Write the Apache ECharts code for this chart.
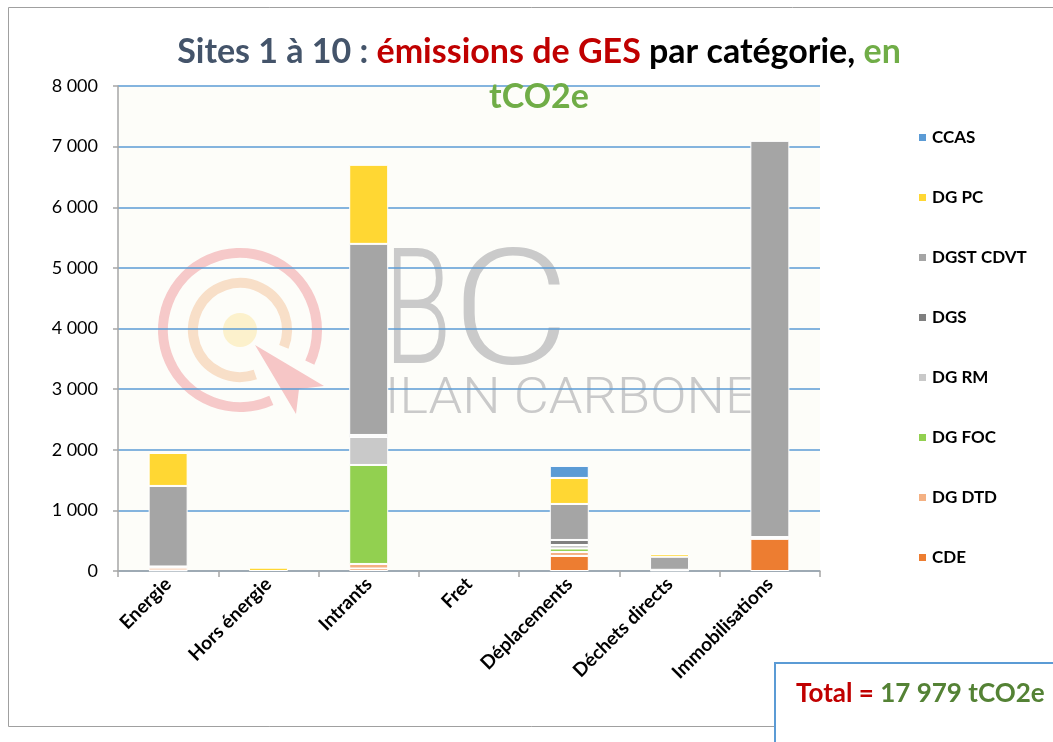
<!DOCTYPE html>
<html>
<head>
<meta charset="utf-8">
<title>Sites 1 à 10 : émissions de GES par catégorie</title>
<script src="https://cdn.jsdelivr.net/npm/echarts@6/dist/echarts.min.js"></script>
<style>
  html, body { margin: 0; padding: 0; background: #fff; }
  #barChart { width: 1053px; height: 742px; }
</style>
</head>
<body>
<div id="barChart"></div>
<script>
// catégories (axe X)
const categories = ["Energie", "Hors énergie", "Intrants", "Fret", "Déplacements", "Déchets directs", "Immobilisations"];
// graduations de l'axe Y
const yTicks = [0, 1000, 2000, 3000, 4000, 5000, 6000, 7000, 8000];

// valeurs par direction, en tCO2e
const CDE = [10, 0, 41, 0, 248, 10, 530];
const DG_DTD = [45, 0, 75, 0, 66, 10, 0];
const DG_FOC = [0, 0, 1633, 0, 57, 0, 0];
const DG_RM = [20, 0, 462, 0, 58, 0, 30];
const DGS = [0, 0, 33, 0, 83, 0, 0];
const DGST_CDVT = [1328, 0, 3152, 0, 594, 215, 6535];
const DG_PC = [544, 55, 1304, 0, 429, 45, 0];
const CCAS = [0, 0, 0, 0, 198, 0, 0];

const total = "17 979";

const seriesList = [
  { name: "CDE", data: CDE, color: "#ed7d31" },
  { name: "DG DTD", data: DG_DTD, color: "#f4b183" },
  { name: "DG FOC", data: DG_FOC, color: "#92d050" },
  { name: "DG RM", data: DG_RM, color: "#c9c9c9" },
  { name: "DGS", data: DGS, color: "#7f7f7f" },
  { name: "DGST CDVT", data: DGST_CDVT, color: "#a5a5a5" },
  { name: "DG PC", data: DG_PC, color: "#ffd733" },
  { name: "CCAS", data: CCAS, color: "#5b9bd5" }
];

const font = "Lato, 'Open Sans', sans-serif";

let myChart = echarts.init(document.getElementById("barChart"));

// filigrane "BC Bilan Carbone" derrière les barres
const watermark = [
  { type: "rect", z: -10, shape: { x: 118, y: 86, width: 702, height: 485 }, style: { fill: "#fdfdf9" } },
  { type: "arc", z: -5, shape: { cx: 240, cy: 330, r: 77, startAngle: 66 * Math.PI / 180, endAngle: (360 + 25) * Math.PI / 180, clockwise: true }, style: { stroke: "#f6c9c9", lineWidth: 10, fill: null } },
  { type: "arc", z: -5, shape: { cx: 240, cy: 330, r: 47, startAngle: 71 * Math.PI / 180, endAngle: (360 + 21) * Math.PI / 180, clockwise: true }, style: { stroke: "#f8dfc8", lineWidth: 10, fill: null } },
  { type: "circle", z: -5, shape: { cx: 240, cy: 330, r: 17 }, style: { fill: "#fcf1cc" } },
  { type: "polygon", z: -5, shape: { points: [[255, 345], [324, 386], [299, 389], [296, 414]] }, style: { fill: "#f6c6c6" } },
  { type: "text", z: -5, x: 384, y: 241, scaleX: 0.68, style: { text: "B", fontSize: 162, fontWeight: 300, fontFamily: "Roboto", fill: "#cacaca" } },
  { type: "text", z: -5, x: 452, y: 241, scaleX: 1.12, style: { text: "C", fontSize: 162, fontWeight: 300, fontFamily: "Roboto", fill: "#cacaca" } },
  { type: "text", z: -5, x: 352, y: 375, scaleX: 1.08, style: { text: "BILAN CARBONE", fontSize: 50, fontWeight: 300, fontFamily: "Roboto", fill: "#cacaca" } }
];

// cadre et encadré du total
const decor = [
  { type: "rect", z: 1, shape: { x: 8.5, y: 7.5, width: 1100, height: 719 }, style: { fill: null, stroke: "#a0a0a0", lineWidth: 1 } },
  { type: "rect", z: 3, shape: { x: 775, y: 663, width: 320, height: 120 }, style: { fill: "#fff", stroke: "#5b9bd5", lineWidth: 2 } },
  {
    type: "text", z: 4, x: 796, y: 694,
    style: {
      text: "{r|Total = }{g|" + total + " tCO2e}",
      verticalAlign: "middle",
      rich: {
        r: { fontFamily: font, fontWeight: "bold", fontSize: 26, fill: "#c00000", color: "#c00000" },
        g: { fontFamily: font, fontWeight: "bold", fontSize: 26, fill: "#548235", color: "#548235" }
      }
    }
  }
];

let option = {
  backgroundColor: "#fff",
  animation: false,
  title: {
    left: 534,
    top: 25,
    textAlign: "center",
    text: "{a|Sites 1 à 10 : }{b|émissions de GES}{c| par catégorie, }{d|en}\n{d|tCO2e}",
    textStyle: {
      rich: {
        a: { color: "#44546a", fontFamily: font, fontWeight: "bold", fontSize: 34, lineHeight: 45 },
        b: { color: "#c00000", fontFamily: font, fontWeight: "bold", fontSize: 34, lineHeight: 45 },
        c: { color: "#000", fontFamily: font, fontWeight: "bold", fontSize: 34, lineHeight: 45 },
        d: { color: "#70ad47", fontFamily: font, fontWeight: "bold", fontSize: 34, lineHeight: 45 }
      }
    }
  },
  legend: {
    orient: "vertical",
    left: 912,
    top: 124,
    itemWidth: 9,
    itemHeight: 9,
    itemGap: 43,
    icon: "rect",
    data: seriesList.map(s => s.name).reverse(),
    textStyle: { fontFamily: font, fontWeight: "bold", fontSize: 17, color: "#000" }
  },
  grid: {
    left: 118,
    right: 233,
    top: 86,
    bottom: 171
  },
  xAxis: {
    type: "category",
    data: categories,
    axisLine: { lineStyle: { color: "#a6a6a6", width: 1.5 } },
    axisTick: { show: true, length: 6, lineStyle: { color: "#a6a6a6", width: 1.5 } },
    axisLabel: {
      rotate: 45,
      interval: 0,
      margin: 10,
      fontFamily: font,
      fontWeight: "bold",
      fontSize: 19,
      color: "#000"
    }
  },
  yAxis: {
    type: "value",
    min: yTicks[0],
    max: yTicks[yTicks.length - 1],
    interval: yTicks[1] - yTicks[0],
    axisLine: { show: true, lineStyle: { color: "#a6a6a6", width: 1.5 } },
    axisTick: { show: true, length: 5, lineStyle: { color: "#a6a6a6", width: 1.5 } },
    splitLine: { lineStyle: { color: "#5b9bd5", width: 1.5 } },
    axisLabel: {
      margin: 20,
      fontFamily: font,
      fontSize: 18,
      color: "#000",
      formatter: function(v) {
        return String(v).replace(/\B(?=(\d{3})+(?!\d))/g, " ");
      }
    }
  },
  graphic: watermark.concat(decor),
  series: seriesList.map(s => ({
    name: s.name,
    type: "bar",
    stack: "total",
    barWidth: 39,
    data: s.data.map(v => (v === 0 ? "-" : v)),
    itemStyle: { color: s.color, borderColor: "#fff", borderWidth: 1 }
  }))
};

myChart.clear();
myChart.setOption(option);
</script>
</body>
</html>
